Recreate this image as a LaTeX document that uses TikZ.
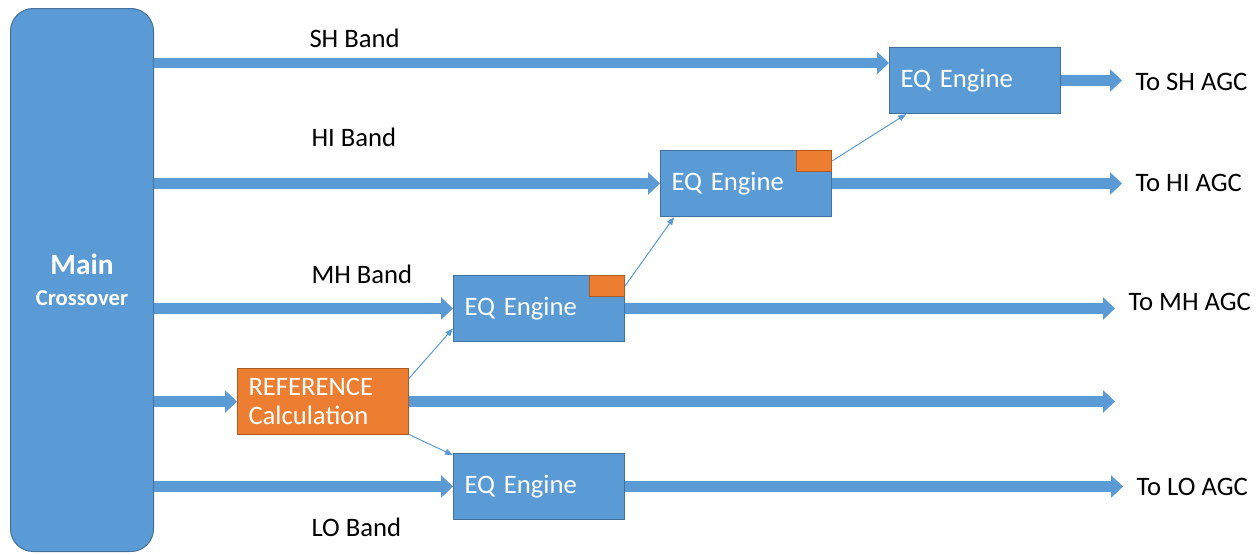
\documentclass[tikz,border=0pt]{standalone}
\usepackage{fontspec}
\setmainfont{Carlito}
\usetikzlibrary{arrows.meta}

\definecolor{boxblue}{RGB}{91,155,213}
\definecolor{boxedge}{RGB}{65,113,156}
\definecolor{calcorange}{RGB}{237,125,49}
\definecolor{calcedge}{RGB}{174,90,33}

\tikzset{every picture/.style={line width=0.75pt},
  mainbox/.style={draw=boxedge, fill=boxblue, text=white, rounded corners=17pt, minimum width=107.25pt, minimum height=407.25pt, align=center, font=\bfseries\fontsize{17}{23.25}\selectfont},
  eqbox/.style={draw=boxedge, fill=boxblue, text=white, inner xsep=8.25pt, inner ysep=0pt, text width=111.75pt, minimum height=49.5pt, align=left, font=\fontsize{20}{21.75}\selectfont},
  calcbox/.style={eqbox, draw=calcedge, fill=calcorange},
  flagbox/.style={draw=calcedge, fill=calcorange, inner sep=0pt, minimum width=26.25pt, minimum height=15.75pt},
  bandlbl/.style={inner sep=0.75pt, font=\fontsize{20}{22}\selectfont},
  band/.style={draw=boxblue, line width=8pt, -{Triangle[length=9pt,width=17pt,line width=0pt]}},
  feed/.style={draw=boxblue, line width=0.75pt, -{Triangle[length=6pt,width=4.5pt]}}
}

\begin{document}
\begin{tikzpicture}[x=0.75pt,y=0.75pt,yscale=-1,xscale=1]
\useasboundingbox (0,0) rectangle (1260,554);

%Shape: Main Crossover
\draw (10,8) node [anchor=north west][mainbox] (main) {{\fontsize{22}{23.25}\selectfont Main}\\Crossover};

%Shape: EQ Engines
\draw (889,47) node [anchor=north west][eqbox] (sheq) {EQ Engine};
\draw (660,150) node [anchor=north west][eqbox] (hieq) {EQ Engine};
\draw (453,275) node [anchor=north west][eqbox] (mheq) {EQ Engine};
\draw (453,453) node [anchor=north west][eqbox] (loeq) {EQ Engine};
%Shape: Reference Calculation
\draw (237,368) node [anchor=north west][calcbox] (ref) {REFERENCE\\Calculation};
%Shape: flags
\draw (hieq.north east) node [anchor=north east][flagbox] (hiflag) {};
\draw (mheq.north east) node [anchor=north east][flagbox] (mhflag) {};

% Text Node
\draw (308,38) node [anchor=west][bandlbl] (shlbl) {SH Band};
% Text Node
\draw (310,137) node [anchor=west][bandlbl] (hilbl) {HI Band};
% Text Node
\draw (310,274) node [anchor=west][bandlbl] (mhlbl) {MH Band};
% Text Node
\draw (310,527) node [anchor=west][bandlbl] (lolbl) {LO Band};
% Text Node
\draw (1134,82) node [anchor=west][bandlbl] (shout) {To SH AGC};
% Text Node
\draw (1134,183) node [anchor=west][bandlbl] (hiout) {To HI AGC};
% Text Node
\draw (1127,302) node [anchor=west][bandlbl] (mhout) {To MH AGC};
% Text Node
\draw (1135,487) node [anchor=west][bandlbl] (loout) {To LO AGC};

\coordinate (shin) at (889,63);
\coordinate (refout) at (1115,405);

%Straight Lines: bands in
\draw [band] (main.east |- shin) -- (shin);
\draw [band] (main.east |- hieq.west) -- (hieq.west);
\draw [band] (main.east |- mheq.west) -- (mheq.west);
\draw [band] (main.east |- ref.west) -- (ref.west);
\draw [band] (main.east |- loeq.west) -- (loeq.west);
%Straight Lines: bands out
\draw [band, shorten >=9pt] (sheq.east) -- (sheq.east -| shout.west);
\draw [band, shorten >=9pt] (hieq.east) -- (hieq.east -| hiout.west);
\draw [band, shorten >=9pt] (mheq.east) -- (mheq.east -| mhout.west);
\draw [band] (ref.east) -- (ref.east -| refout);
\draw [band, shorten >=9pt] (loeq.east) -- (loeq.east -| loout.west);

%Straight Lines: reference feeds
\draw [feed] (ref.15) -- (mheq.193);
\draw [feed] (ref.-21) -- (loeq.160);
\draw [feed] (mhflag.east) -- (hieq.205);
\draw [feed] (hiflag.east) -- (sheq.206);

\end{tikzpicture}
\end{document}
